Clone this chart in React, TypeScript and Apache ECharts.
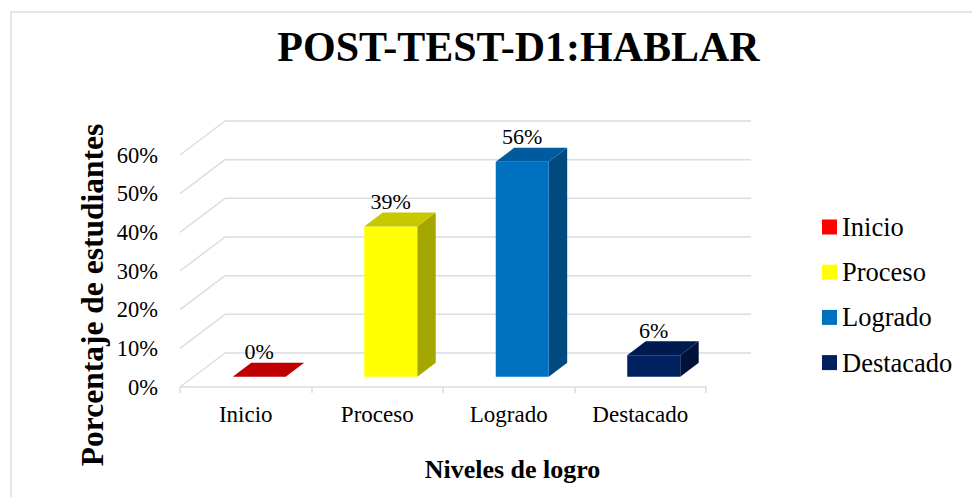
import React, { useEffect, useRef } from 'react';
import * as echarts from 'echarts';

const TITLE = 'POST-TEST-D1:HABLAR';
const X_TITLE = 'Niveles de logro';
const Y_TITLE = 'Porcentaje de estudiantes';
const CATEGORIES = ['Inicio', 'Proceso', 'Logrado', 'Destacado'];
const VALUES = [0, 0.389, 0.556, 0.056];
const Y_MIN = 0;
const Y_MAX = 0.6;
const Y_STEP = 0.1;
const Y_TICKS = [0, 0.1, 0.2, 0.3, 0.4, 0.5, 0.6];

const FRONT_COLORS = ['#FF0000', '#FFFF00', '#0070C0', '#002060'];
const TOP_COLORS = ['#C00000', '#C8C800', '#005A9E', '#001A4F'];
const SIDE_COLORS = ['#A00000', '#A6A600', '#004A80', '#001238'];

const FONT = 'Liberation Serif';
const GRID_COLOR = '#D9DEE6';
const DEPTH_X = 45;
const DEPTH_Y = -34;
const BAR_FRONT = 0.3;
const BAR_DEPTH = 0.41;
const BAR_RATIO = 0.403;

const pct = (v: number) => Math.round(v * 100) + '%';

export default function App() {
  const ref = useRef<HTMLDivElement>(null);
  useEffect(() => {
    document.body.style.margin = '0';
    if (!ref.current) return;
    const chart = echarts.init(ref.current, undefined, { renderer: 'svg' });

    const barSeries = CATEGORIES.map((name, i) => ({
      type: 'custom',
      name,
      itemStyle: { color: FRONT_COLORS[i] },
      encode: { x: 0, y: 1 },
      data: [[i, VALUES[i]]],
      z: 3,
      renderItem: (params: any, api: any) => {
        const idx = api.value(0);
        const v = api.value(1);
        const base = api.coord([idx, 0]);
        const top = api.coord([idx, v]);
        const bw = api.size([1, 0])[0] * BAR_RATIO;
        const ox = DEPTH_X * BAR_FRONT;
        const oy = DEPTH_Y * BAR_FRONT;
        const dx = DEPTH_X * BAR_DEPTH;
        const dy = DEPTH_Y * BAR_DEPTH;
        const x0 = base[0] - bw / 2 + ox;
        const x1 = x0 + bw;
        const yb = base[1] + oy;
        const yt = top[1] + oy;
        const children: any[] = [];
        if (yb - yt > 0.5) {
          children.push({
            type: 'polygon',
            shape: { points: [[x1, yb], [x1 + dx, yb + dy], [x1 + dx, yt + dy], [x1, yt]] },
            style: { fill: SIDE_COLORS[i] },
          });
          children.push({
            type: 'rect',
            shape: { x: x0, y: yt, width: bw, height: yb - yt },
            style: { fill: FRONT_COLORS[i] },
          });
        }
        children.push({
          type: 'polygon',
          shape: { points: [[x0, yt], [x1, yt], [x1 + dx, yt + dy], [x0 + dx, yt + dy]] },
          style: { fill: TOP_COLORS[i] },
        });
        children.push({
          type: 'text',
          style: {
            text: pct(v),
            x: x0 + bw / 2,
            y: yt + dy - 11,
            align: 'center',
            verticalAlign: 'middle',
            font: `22px ${FONT}`,
            fill: '#000',
          },
        });
        return { type: 'group', children };
      },
    }));

    const wallSeries = {
      type: 'custom',
      name: 'walls',
      silent: true,
      z: 1,
      encode: { x: 0, y: 1 },
      data: Y_TICKS.map((t) => [0, t]),
      renderItem: (params: any, api: any) => {
        const cs = params.coordSys;
        const y = api.coord([0, api.value(1)])[1];
        const x = cs.x;
        return {
          type: 'group',
          children: [
            {
              type: 'line',
              shape: { x1: x, y1: y, x2: x + DEPTH_X, y2: y + DEPTH_Y },
              style: { stroke: GRID_COLOR, lineWidth: 1.5 },
            },
            {
              type: 'line',
              shape: { x1: x + DEPTH_X, y1: y + DEPTH_Y, x2: x + cs.width + DEPTH_X, y2: y + DEPTH_Y },
              style: { stroke: GRID_COLOR, lineWidth: 1.5 },
            },
          ],
        };
      },
    };

    chart.setOption({
      animation: false,
      backgroundColor: '#fff',
      textStyle: { fontFamily: FONT },
      grid: { left: 180, top: 155, right: 266, bottom: 110, containLabel: false },
      xAxis: {
        type: 'category',
        data: CATEGORIES,
        axisLine: { show: true, lineStyle: { color: GRID_COLOR, width: 1.5 } },
        axisTick: { show: true, length: 6, lineStyle: { color: GRID_COLOR, width: 1.5 } },
        axisLabel: { fontSize: 23, fontFamily: FONT, color: '#000', margin: 16 },
        splitLine: { show: false },
      },
      yAxis: {
        type: 'value',
        min: Y_MIN,
        max: Y_MAX,
        interval: Y_STEP,
        axisLine: { show: false },
        axisTick: { show: false },
        splitLine: { show: false },
        axisLabel: {
          fontSize: 22.5,
          fontFamily: FONT,
          color: '#000',
          margin: 22,
          formatter: (v: number) => pct(v),
        },
      },
      legend: {
        orient: 'vertical',
        left: 822,
        top: 213.5,
        padding: 0,
        icon: 'rect',
        itemWidth: 15,
        itemHeight: 15,
        itemGap: 18.2,
        data: CATEGORIES,
        textStyle: { fontSize: 26.5, fontFamily: FONT, color: '#000' },
      },
      graphic: [
        {
          type: 'rect',
          shape: { x: 11, y: 12, width: 1000, height: 520 },
          style: { fill: 'none', stroke: GRID_COLOR, lineWidth: 1.5 },
          silent: true,
        },
        {
          type: 'text',
          x: 518.5,
          y: 47,
          style: {
            text: TITLE,
            align: 'center',
            verticalAlign: 'middle',
            font: `bold 42px ${FONT}`,
            fill: '#000',
          },
        },
        {
          type: 'text',
          x: 512.5,
          y: 469.5,
          style: {
            text: X_TITLE,
            align: 'center',
            verticalAlign: 'middle',
            font: `bold 26px ${FONT}`,
            fill: '#000',
          },
        },
        {
          type: 'text',
          x: 92,
          y: 295,
          rotation: Math.PI / 2,
          style: {
            text: Y_TITLE,
            align: 'center',
            verticalAlign: 'middle',
            font: `bold 31.5px ${FONT}`,
            fill: '#000',
          },
        },
      ],
      series: [wallSeries, ...barSeries],
    });
    return () => chart.dispose();
  }, []);
  return <div ref={ref} style={{ width: 972, height: 497 }} />;
}
